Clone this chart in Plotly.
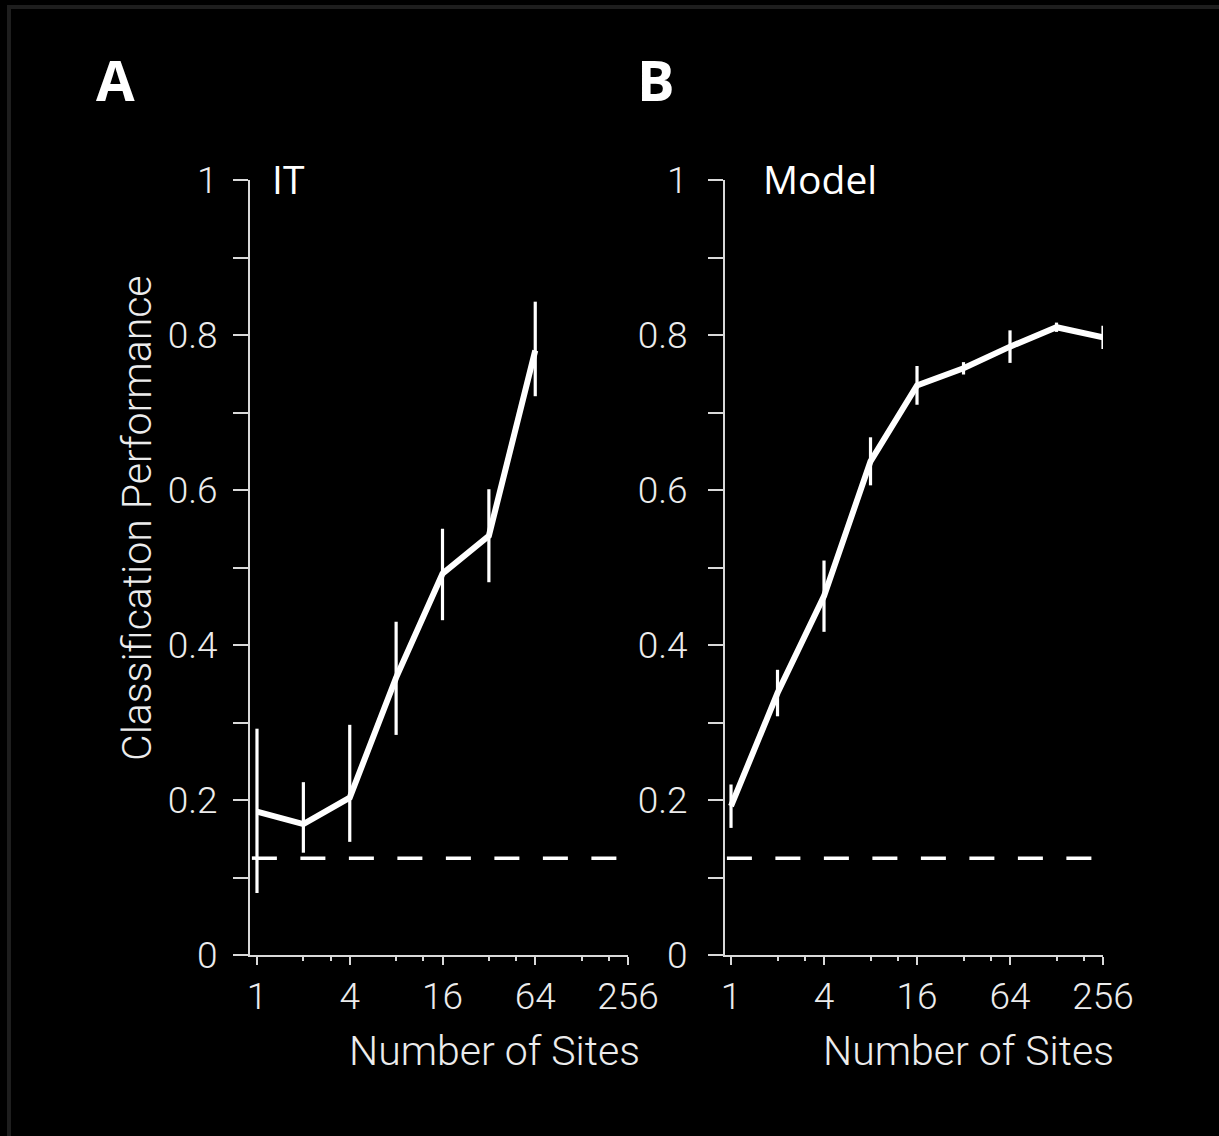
import plotly.graph_objects as go

# ---- data -------------------------------------------------------------
sites_it = [1, 2, 4, 8, 16, 32, 64]
perf_it = [0.185, 0.169, 0.203, 0.358, 0.492, 0.541, 0.780]
err_it_up = [0.107, 0.054, 0.094, 0.072, 0.058, 0.060, 0.063]
err_it_dn = [0.105, 0.037, 0.057, 0.074, 0.060, 0.060, 0.059]

sites_model = [1, 2, 4, 8, 16, 32, 64, 128, 256]
perf_model = [0.192, 0.338, 0.463, 0.637, 0.735, 0.757, 0.785, 0.810, 0.797]
err_model = [0.028, 0.030, 0.046, 0.031, 0.025, 0.008, 0.021, 0.006, 0.015]

chance_level = 0.125

x_tick_vals = [1, 4, 16, 64, 256]
x_tick_text = ["1", "4", "16", "64", "256"]
x_minor_vals = [2, 3, 8, 12, 32, 48, 128, 192]
y_tick_vals = [0, 0.1, 0.2, 0.3, 0.4, 0.5, 0.6, 0.7, 0.8, 0.9, 1.0]
y_tick_text = ["0", "", "0.2", "", "0.4", "", "0.6", "", "0.8", "", "1"]

panel_letters = ["A", "B"]
panel_names = ["IT", "Model"]
x_title = "Number of Sites"
y_title = "Classification Performance"

# ---- layout helpers ---------------------------------------------------
W, H = 1219, 1136


def px(x):
    return x / W


def py(y):
    return 1 - y / H


AXIS_COLOR = "#d9d9d9"
TEXT_COLOR = "#ececec"
TICK_FONT = dict(family="Roboto", size=37, color=TEXT_COLOR, weight=300)
TITLE_FONT = dict(family="Roboto", size=41, color=TEXT_COLOR, weight=300)
LINE_W = 6

fig = go.Figure()

fig.add_trace(go.Scatter(
    x=sites_it, y=perf_it, mode="lines",
    line=dict(color="white", width=LINE_W),
    error_y=dict(type="data", symmetric=False, array=err_it_up,
                 arrayminus=err_it_dn, color="white", thickness=3.2, width=0),
    xaxis="x", yaxis="y", showlegend=False, cliponaxis=False,
))
fig.add_trace(go.Scatter(
    x=sites_model, y=perf_model, mode="lines",
    line=dict(color="white", width=LINE_W),
    error_y=dict(type="data", array=err_model, color="white",
                 thickness=3.2, width=0),
    xaxis="x2", yaxis="y2", showlegend=False, cliponaxis=False,
))

common_x = dict(
    type="log", tickvals=x_tick_vals, ticktext=x_tick_text,
    ticks="outside", ticklen=8, tickwidth=2, tickcolor=AXIS_COLOR,
    showline=True, linecolor=AXIS_COLOR, linewidth=2,
    showgrid=False, zeroline=False, tickfont=TICK_FONT,
    ticklabelstandoff=0, automargin=False,
    minor=dict(tickvals=x_minor_vals, ticks="outside", ticklen=4,
               tickwidth=2, tickcolor=AXIS_COLOR, showgrid=False),
)
common_y = dict(
    range=[0, 1], tickvals=y_tick_vals, ticktext=y_tick_text,
    ticks="outside", ticklen=15, tickwidth=2, tickcolor=AXIS_COLOR,
    showline=True, linecolor=AXIS_COLOR, linewidth=2,
    showgrid=False, zeroline=False, tickfont=TICK_FONT, automargin=False,
)

fig.update_layout(
    width=W, height=H, autosize=False,
    margin=dict(l=0, r=0, t=0, b=0, pad=0, autoexpand=False),
    paper_bgcolor="black", plot_bgcolor="black",
    xaxis=dict(common_x, domain=[px(250), px(628)],
               range=[-0.0454, 2.4082], anchor="y"),
    yaxis=dict(common_y, domain=[py(955), py(180)], anchor="x",
               ticklabelstandoff=8),
    xaxis2=dict(common_x, domain=[px(725), px(1103)],
                range=[-0.0389, 2.4082], anchor="y2"),
    yaxis2=dict(common_y, domain=[py(955), py(180)], anchor="x2",
                ticklabelstandoff=13),
)

# chance level
for xr, yr in (("x domain", "y"), ("x2 domain", "y2")):
    fig.add_shape(type="line", xref=xr, yref=yr, x0=0.005, x1=0.99,
                  y0=chance_level, y1=chance_level,
                  line=dict(color="white", width=3.5, dash="25px,23.5px"))

# outer frame (top and left edges; the others run off the page)
fig.add_shape(type="line", xref="paper", yref="paper",
              x0=px(7), x1=1, y0=py(7), y1=py(7),
              line=dict(color="#1e1e1e", width=4), layer="below")
fig.add_shape(type="line", xref="paper", yref="paper",
              x0=px(9), x1=px(9), y0=0, y1=py(5),
              line=dict(color="#1e1e1e", width=4), layer="below")

# panel letters and names
for letter, xc in zip(panel_letters, (116, 656)):
    fig.add_annotation(text=letter, x=px(xc), y=py(79), xref="paper",
                       yref="paper", showarrow=False,
                       font=dict(family="Open Sans", size=56, color="white",
                                 weight=700),
                       xanchor="center", yanchor="middle")
for name, xl in zip(panel_names, (270, 761)):
    fig.add_annotation(text=name, x=px(xl), y=py(179), xref="paper",
                       yref="paper", showarrow=False,
                       font=dict(family="Open Sans", size=39, color="white"),
                       xanchor="left", yanchor="middle")

# axis titles
for xc in (494, 968):
    fig.add_annotation(text=x_title, x=px(xc), y=py(1051), xref="paper",
                       yref="paper", showarrow=False, font=TITLE_FONT,
                       xanchor="center", yanchor="middle")
fig.add_annotation(text=y_title, x=px(137), y=py(518), xref="paper",
                   yref="paper", showarrow=False, textangle=-90,
                   font=TITLE_FONT, xanchor="center", yanchor="middle")

fig.write_html("out.html")
